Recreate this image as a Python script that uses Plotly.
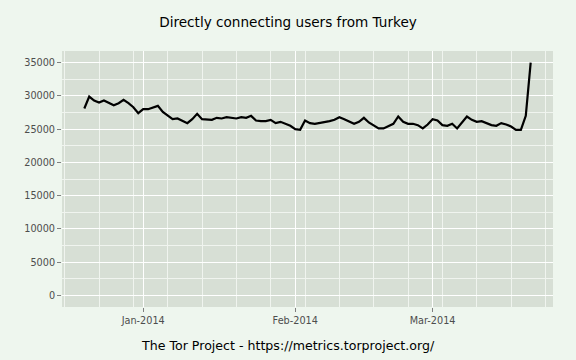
import pandas as pd
import plotly.graph_objects as go

start_date = "2013-12-20"
users = [
    28100, 29900, 29300, 29000, 29300, 28900, 28600, 28900, 29400, 28900, 28300, 27400,  # Dec 20-31
    28000, 28000, 28200, 28500, 27600, 27000, 26500, 26600, 26300, 25900, 26500, 27300,  # Jan 1-12
    26500, 26500, 26400, 26700, 26600, 26800, 26700, 26600, 26800, 26700, 27000, 26300,  # Jan 13-24
    26200, 26200, 26400, 25900, 26100, 25800, 25500,                                      # Jan 25-31
    25000, 24900, 26300, 25900, 25800, 25900, 26000, 26200, 26400, 26800, 26500, 26200,  # Feb 1-12
    25800, 26100, 26700, 26000, 25500, 25100, 25100, 25400, 25800, 26900, 26100, 25800,  # Feb 13-24
    25800, 25600, 25100, 25700,                                                           # Feb 25-28
    26500, 26300, 25600, 25500, 25800, 25100, 26000, 26900, 26400, 26100, 26200, 25900,  # Mar 1-12
    25600, 25500, 25900, 25700, 25400, 24900, 24900, 27000, 35000,                        # Mar 13-21
]
dates = pd.date_range(start_date, periods=len(users), freq="D")

x_ticks = ["2014-01-01", "2014-02-01", "2014-03-01"]
x_tick_labels = ["Jan-2014", "Feb-2014", "Mar-2014"]
y_ticks = [0, 5000, 10000, 15000, 20000, 25000, 30000, 35000]
y_tick_labels = [str(v) for v in y_ticks]

title_text = "Directly connecting users from Turkey"
caption_text = "The Tor Project - https://metrics.torproject.org/"

span = dates[-1] - dates[0]
x_range = [dates[0] - 0.05 * span, dates[-1] + 0.05 * span]
y_lo, y_hi = 0, max(users)
y_range = [y_lo - 0.05 * (y_hi - y_lo), y_hi + 0.05 * (y_hi - y_lo)]

W, H = 576, 360
ML, MR, MT, MB = 62, 23, 51, 53
paper_bg = "#EEF6EE"
panel_bg = "#D7DFD5"
tick_font = dict(family="DejaVu Sans", size=9.7, color="#4D4D4D")

fig = go.Figure()
fig.add_trace(go.Scatter(
    x=dates, y=users, mode="lines",
    line=dict(color="black", width=2.2),
    hoverinfo="x+y", showlegend=False,
))

fig.update_layout(
    width=W, height=H,
    margin=dict(l=ML, r=MR, t=MT, b=MB),
    paper_bgcolor=paper_bg,
    plot_bgcolor=panel_bg,
    title=dict(text=title_text, x=0.5, xanchor="center", y=1 - 22 / H, yanchor="middle",
               font=dict(family="DejaVu Sans", size=13.6, color="black")),
    font=dict(family="DejaVu Sans"),
)

fig.update_xaxes(
    type="date", range=x_range,
    tickmode="array", tickvals=x_ticks, ticktext=x_tick_labels,
    ticks="outside", ticklen=4, tickwidth=1, tickcolor="#7F7F7F",
    tickfont=tick_font,
    showgrid=True, gridcolor="white", gridwidth=1.2,
    zeroline=False, showline=False,
    minor=dict(tickmode="linear", tick0="2013-12-16", dtick=7 * 86400000,
               showgrid=True, gridcolor="#F0F4EF", gridwidth=0.7, ticks=""),
)
fig.update_yaxes(
    range=y_range,
    tickmode="array", tickvals=y_ticks, ticktext=y_tick_labels,
    ticks="outside", ticklen=4, tickwidth=1, tickcolor="#7F7F7F",
    tickfont=tick_font,
    showgrid=True, gridcolor="white", gridwidth=1.2,
    zeroline=False, showline=False,
    minor=dict(tickmode="linear", tick0=0, dtick=2500,
               showgrid=True, gridcolor="#F0F4EF", gridwidth=0.7, ticks=""),
)

plot_w = W - ML - MR
plot_h = H - MT - MB
fig.add_annotation(
    text=caption_text, xref="paper", yref="paper",
    x=(W / 2 - ML) / plot_w, y=-(345 - (H - MB)) / plot_h, xanchor="center", yanchor="middle",
    showarrow=False, font=dict(family="DejaVu Sans", size=12.6, color="black"),
)

fig.write_html(
    "out.html",
    config={"displayModeBar": False},
    post_script="document.body.style.margin='0';document.body.style.background='" + paper_bg + "';",
)
